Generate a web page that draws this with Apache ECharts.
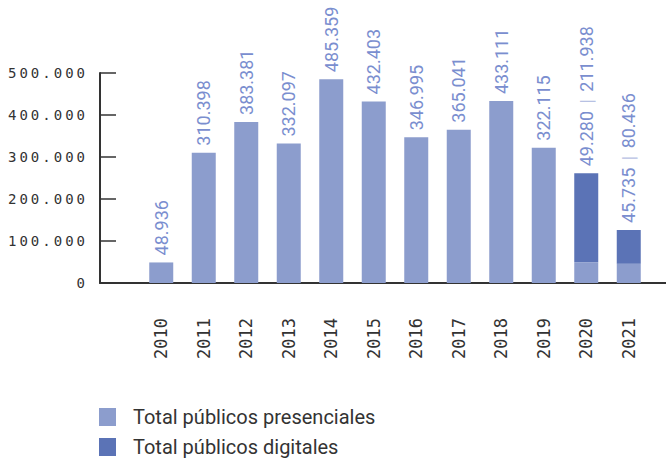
<!DOCTYPE html>
<html>
<head>
<meta charset="utf-8">
<script src="https://cdn.jsdelivr.net/npm/echarts@6/dist/echarts.min.js"></script>
<style>
html, body { margin: 0; padding: 0; background: #fff; }
#chart { width: 666px; height: 459px; }
/* y axis labels are spaced out like in the source */
#chart text[style*="monospace"] { letter-spacing: 3px; }
</style>
</head>
<body>
<div id="chart"></div>
<script>
var years = ['2010', '2011', '2012', '2013', '2014', '2015', '2016', '2017', '2018', '2019', '2020', '2021'];
var presenciales = [48936, 310398, 383381, 332097, 485359, 432403, 346995, 365041, 433111, 322115, 49280, 45735];
var digitales = [null, null, null, null, null, null, null, null, null, null, 211938, 80436];
var seriesNames = ['Total públicos presenciales', 'Total públicos digitales'];

function fmt(v) {
    return String(v).replace(/\B(?=(\d{3})+(?!\d))/g, '.');
}

var valueLabel = {
    show: true,
    position: 'top',
    rotate: 90,
    align: 'left',
    verticalAlign: 'middle',
    distance: 7,
    color: '#7a8ecf',
    fontFamily: 'Roboto',
    fontSize: 18,
    rich: {
        p: { color: '#b7c1e3', fontFamily: 'Roboto', fontSize: 18, padding: [0, 3] }
    }
};

var axisColor = '#333';

var chart = echarts.init(document.getElementById('chart'), null, { renderer: 'svg' });
chart.setOption({
    animation: false,
    backgroundColor: '#fff',
    grid: [
        { left: 140, right: 16, top: 73, bottom: 176 },
        // frame grid: draws the long axis lines
        { left: 100, right: 0, top: 73, bottom: 176 }
    ],
    legend: {
        orient: 'vertical',
        left: 99,
        top: 407,
        padding: 0,
        itemWidth: 17,
        itemHeight: 18,
        itemGap: 10,
        icon: 'rect',
        data: seriesNames,
        textStyle: {
            color: '#333',
            fontFamily: 'Roboto',
            fontSize: 20,
            lineHeight: 18,
            padding: [0, 0, 0, 12]
        }
    },
    xAxis: [
        {
            type: 'category',
            gridIndex: 0,
            data: years,
            axisLine: { show: false },
            axisTick: { show: false },
            axisLabel: {
                rotate: 90,
                margin: 35,
                color: '#333',
                fontFamily: 'DejaVu Sans Mono',
                fontSize: 17
            }
        },
        {
            type: 'value',
            gridIndex: 1,
            min: 0,
            max: 1,
            axisLine: { show: true, onZero: false, lineStyle: { color: axisColor, width: 2 } },
            axisTick: { show: false },
            axisLabel: { show: false },
            splitLine: { show: false }
        }
    ],
    yAxis: [
        {
            type: 'value',
            gridIndex: 0,
            min: 0,
            max: 500000,
            interval: 100000,
            offset: 40,
            axisLine: { show: false },
            axisTick: { show: true, inside: true, length: 16, lineStyle: { color: axisColor, width: 1.5 } },
            splitLine: { show: false },
            axisLabel: {
                margin: 12,
                color: '#333',
                fontFamily: "'DejaVu Sans Mono', monospace",
                fontSize: 14,
                formatter: function (v) { return fmt(v); }
            }
        },
        {
            type: 'value',
            gridIndex: 1,
            min: 0,
            max: 1,
            position: 'left',
            axisLine: { show: true, onZero: false, lineStyle: { color: axisColor, width: 2 } },
            axisTick: { show: false },
            axisLabel: { show: false },
            splitLine: { show: false }
        }
    ],
    series: [
        {
            name: seriesNames[0],
            type: 'bar',
            stack: 'total',
            barWidth: 24,
            data: presenciales,
            itemStyle: { color: '#8c9dcd' },
            label: Object.assign({}, valueLabel, {
                formatter: function (p) {
                    return digitales[p.dataIndex] ? '' : fmt(p.value);
                }
            })
        },
        {
            name: seriesNames[1],
            type: 'bar',
            stack: 'total',
            barWidth: 24,
            data: digitales,
            itemStyle: { color: '#5b73b6' },
            label: Object.assign({}, valueLabel, {
                formatter: function (p) {
                    return fmt(presenciales[p.dataIndex]) + ' {p||} ' + fmt(p.value);
                }
            })
        }
    ]
});
</script>
</body>
</html>
